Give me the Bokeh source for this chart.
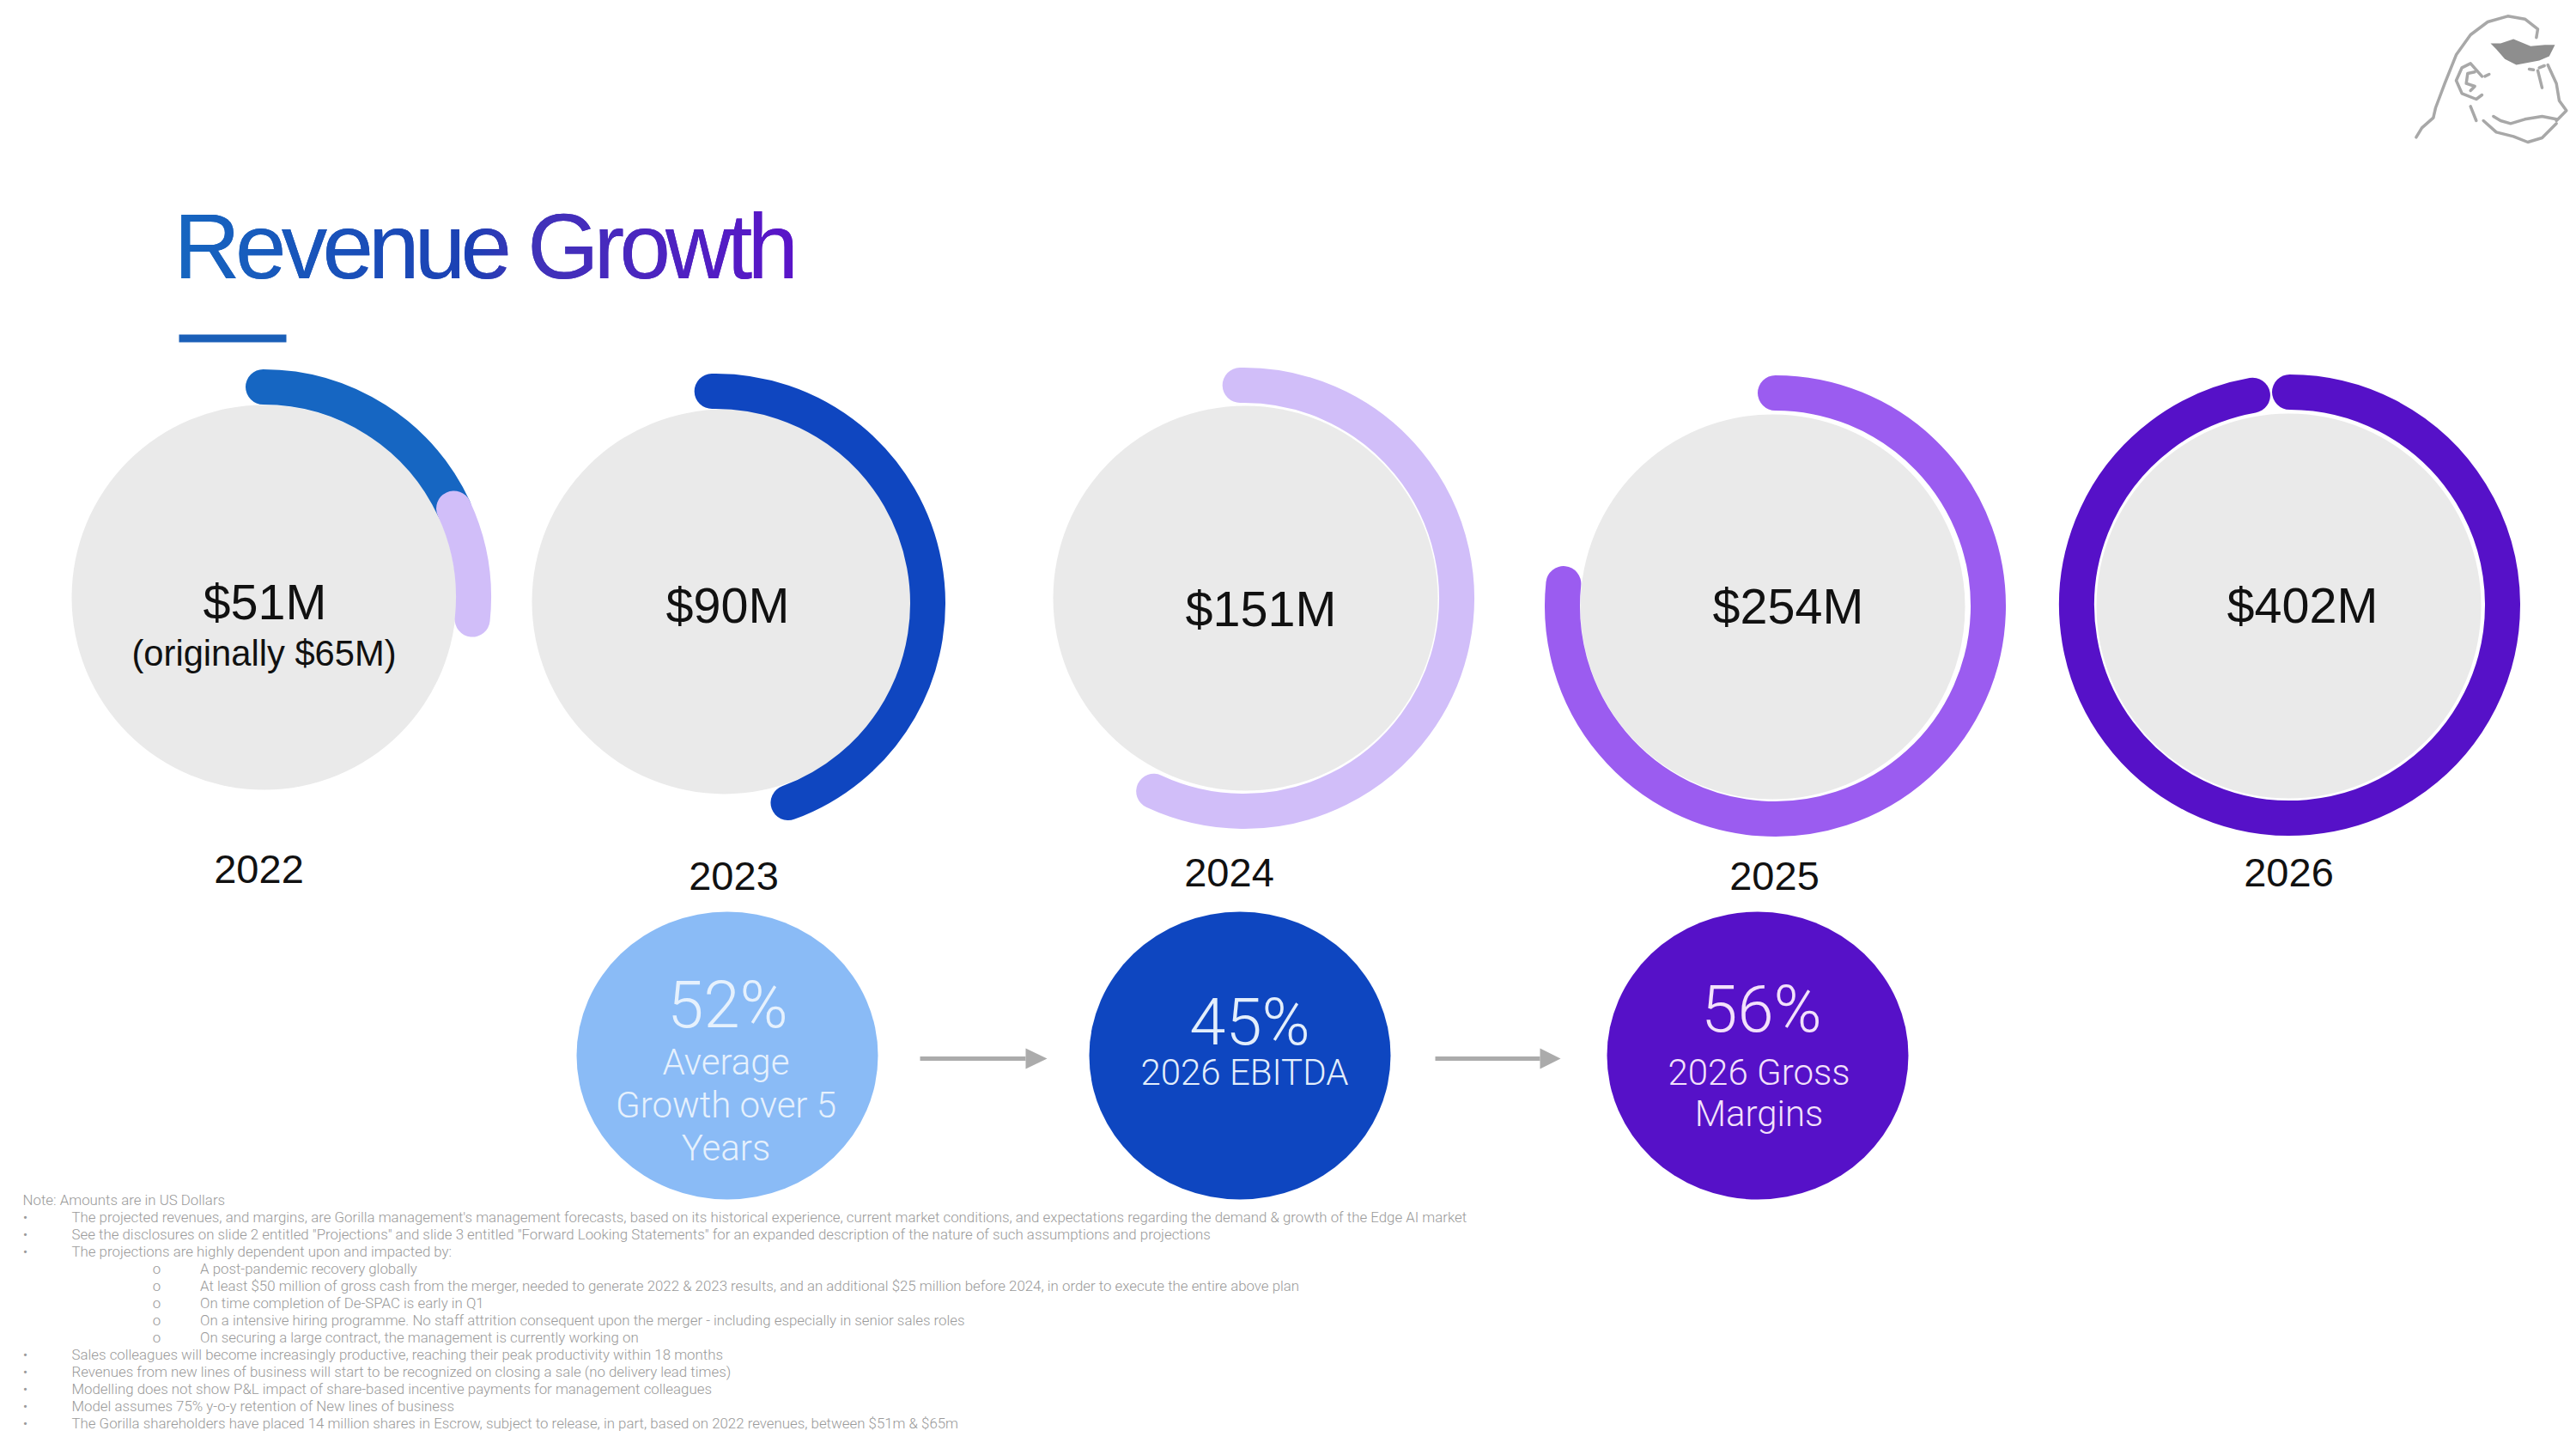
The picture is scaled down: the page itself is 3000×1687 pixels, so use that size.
from bokeh.plotting import figure
from bokeh.models import ColumnDataSource, CustomJS
from bokeh.core.properties import value
from bokeh.document import Document
from bokeh.embed import file_html
from bokeh.resources import INLINE

W, H = 3000, 1687
SANS = value("Liberation Sans")
LIGHT = value("Roboto Light")

# ---- data ----
years = ["2022", "2023", "2024", "2025", "2026"]
revenue_labels = ["$51M", "$90M", "$151M", "$254M", "$402M"]
ring_start_deg = [0, -1, -1, 0, 0]
ring_end_deg = [65, 160, 205, 276, 350]
ring_colors = ["#1666C2", "#0F46C0", "#D1BEF9", "#9B5CF0", "#5611C8"]
original_target_start_deg = [65]
original_target_end_deg = [96]
original_note = "(originally $65M)"
kpi_values = ["52%", "45%", "56%"]
kpi_colors = ["#8ABBF6", "#0E46C0", "#5611C8"]
kpi_text_colors = ["#E6F1FD", "#E3EEFB", "#F3E1FB"]
kpi_labels = [["Average", "Growth over 5", "Years"], ["2026 EBITDA"], ["2026 Gross", "Margins"]]
title = "Revenue Growth"
footnotes = [
    "Note: Amounts are in US Dollars",
    "The projected revenues, and margins, are Gorilla management's management forecasts, based on its historical experience, current market conditions, and expectations regarding the demand & growth of the Edge AI market",
    "See the disclosures on slide 2 entitled \"Projections\" and slide 3 entitled \"Forward Looking Statements\" for an expanded description of the nature of such assumptions and projections",
    "The projections are highly dependent upon and impacted by:",
    "A post-pandemic recovery globally",
    "At least $50 million of gross cash from the merger, needed to generate 2022 & 2023 results, and an additional $25 million before 2024, in order to  execute the entire above plan",
    "On time completion of De-SPAC is early in Q1",
    "On a intensive hiring programme. No staff attrition consequent upon the merger - including especially in senior sales roles",
    "On securing a large contract, the management is currently working on",
    "Sales colleagues will become increasingly productive, reaching their peak productivity within 18 months",
    "Revenues from new lines of business will start to be recognized on closing a sale (no delivery lead times)",
    "Modelling does not show P&L impact of share-based incentive payments for management colleagues",
    "Model assumes 75% y-o-y retention of New lines of business",
    "The Gorilla shareholders have placed 14 million shares in Escrow, subject to release, in part, based on 2022 revenues, between $51m & $65m",
]
footnote_levels = [0, 1, 1, 1, 2, 2, 2, 2, 2, 1, 1, 1, 1, 1]

# ---- layout (pixels of the slide) ----
def Y(py):
    return H - py

p = figure(width=2992, height=1679, x_range=(0, 2992), y_range=(8, 1687),
           output_backend="svg", toolbar_location=None, min_border=0,
           x_axis_type=None, y_axis_type=None, outline_line_color=None)
p.grid.visible = False
p.background_fill_color = "white"
p.border_fill_color = "white"

grey_x = [307, 843, 1450, 2064, 2665]
grey_y = [695, 700, 696, 706, 705]
ring_x = [306, 833, 1448, 2067, 2666]
ring_y = [695, 702, 696, 705, 704]
ring_r = [245, 247, 248, 248, 248]
p.circle(grey_x, [Y(v) for v in grey_y], radius=224, fill_color="#EAEAEA", line_color=None)

rings = ColumnDataSource(dict(
    x=ring_x, y=[Y(v) for v in ring_y], r=ring_r,
    a0=[90 - v for v in ring_start_deg], a1=[90 - v for v in ring_end_deg], c=ring_colors))
p.arc("x", "y", radius="r", start_angle="a0", end_angle="a1", start_angle_units="deg",
      end_angle_units="deg", direction="clock", line_color="c", line_width=41,
      line_cap="round", source=rings)
p.arc(ring_x[:1], [Y(ring_y[0])], radius=ring_r[0],
      start_angle=90 - original_target_start_deg[0], end_angle=90 - original_target_end_deg[0],
      start_angle_units="deg", end_angle_units="deg", direction="clock",
      line_color="#D1BEF9", line_width=41, line_cap="round")

def label(x, y, texts, font, size, color="#111111", align="center"):
    # the svg text sits 0.37em under the requested alphabetic baseline
    p.text(x, [Y(v - 0.37 * size) for v in y], text=texts, text_font=font, text_font_size=f"{size}px",
           text_color=color, text_align=align, text_baseline="alphabetic")

label([308, 847, 1468, 2082, 2681], [722, 726, 730, 727, 726], revenue_labels, SANS, 57.5)
label([307], [775], [original_note], SANS, 41.7)
label([301, 854, 1431, 2066, 2665], [1029, 1037, 1033, 1037, 1033], years, SANS, 47)

# KPI circles
kpi_x = [846.5, 1443.5, 2046.5]
p.ellipse(kpi_x, [Y(1228.5)] * 3, width=351, height=335, fill_color=kpi_colors, line_color=None)
for x, y, v, c in zip([847, 1455, 2051], [1197.5, 1218, 1203], kpi_values, kpi_text_colors):
    label([x], [y], [v], LIGHT, 76, c)
for x, ys, lines, c in zip([845, 1449, 2048], [[1252, 1302, 1352], [1264], [1264, 1312]], kpi_labels, kpi_text_colors):
    label([x] * len(ys), ys, lines, LIGHT, 42, c)

# arrows
ax0, ax1, head = [1071, 1671], [1219, 1817], [1194, 1793]
p.segment(ax0, [Y(1232)] * 2, head, [Y(1232)] * 2, line_color="#ABABAB", line_width=5)
p.patches([[h, h, e] for h, e in zip(head, ax1)],
          [[Y(1220), Y(1244), Y(1232)]] * 2, fill_color="#ABABAB", line_color=None)

# title + rule
label([202], [326], [title], SANS, 107, "#2A3FB8", "left")
p.quad(left=[208], right=[333], top=[Y(389)], bottom=[Y(398)], fill_color="#1A5FB8", line_color=None)

# footnotes
fy = [1397, 1417, 1437, 1457, 1477, 1497, 1517.5, 1537.5, 1557.5, 1577.5, 1597.5, 1617.5, 1637.5, 1657.5]
fx = [26, 83, 232.5]
GREY = "#9A9A9A"
FS = 16.85
for t, y, lev in zip(footnotes, fy, footnote_levels):
    label([fx[lev]], [y + 5.5], [t], LIGHT, FS, GREY, "left")
    if lev:
        label([29 if lev == 1 else 182], [y + 5.5], ["\u2022" if lev == 1 else "o"], LIGHT, FS, GREY, "center")

# gorilla logo (decoration), points measured in a local 660x540 crop
def logo(pts):
    return [2780 + a / 3 for a, b in pts], [Y(b / 3) for a, b in pts]
strokes = [
    [(100,478),(120,445),(160,410),(168,375),(200,290),(240,190),(290,120),(350,75),(420,55),(480,65),(525,100),(520,130)],
    [(330,265),(290,220),(260,235),(240,280),(260,325),(310,345),(330,330)],
    [(305,250),(280,255),(275,290),(305,300),(290,315)],
    [(525,245),(540,305)], [(495,240),(510,242)], [(530,235),(548,228)],
    [(340,265),(355,258)],
    [(560,225),(590,290),(600,350),(625,385),(600,410),(590,420)],
    [(370,405),(395,420),(430,430),(480,415),(540,405),(590,415)],
    [(290,370),(310,420)],
    [(335,420),(380,460),(440,475),(490,495),(540,480),(590,430)],
]
for s in strokes:
    xs, ys = logo(s)
    p.line(xs, ys, line_color="#A8A8A8", line_width=3.5, line_join="round", line_cap="round")
gx, gy = logo([(360,150),(395,150),(440,135),(500,160),(550,155),(585,155),(565,195),(530,210),(450,225),(410,205),(380,170)])
p.patch(gx, gy, fill_color="#8E8E8E", line_color=None)

# title tracking and colour gradient on the SVG text
doc = Document()
doc.add_root(p)
doc.js_on_event("document_ready", CustomJS(args=dict(title=title), code="""
function walk(root, out) {
  for (const el of root.querySelectorAll('*')) {
    if (el.tagName === 'text' && el.textContent === title) out.push(el);
    if (el.shadowRoot) walk(el.shadowRoot, out);
  }
  return out;
}
function apply() {
  for (const t of walk(document, [])) {
    const svg = t.ownerSVGElement, ns = 'http://www.w3.org/2000/svg';
    t.setAttribute('letter-spacing', '-5.8px');
    t.style.letterSpacing = '-5.8px';
    if (!svg.querySelector('#titlegrad')) {
      const g = document.createElementNS(ns, 'linearGradient');
      g.setAttribute('id', 'titlegrad');
      g.setAttribute('x1', '0'); g.setAttribute('x2', '1');
      g.setAttribute('y1', '0'); g.setAttribute('y2', '0');
      [['0', '#1666C0'], ['0.48', '#1C40B4'], ['0.56', '#3E34B8'], ['1', '#5A14C8']].forEach(([o, c]) => {
        const s = document.createElementNS(ns, 'stop');
        s.setAttribute('offset', o); s.setAttribute('stop-color', c); g.appendChild(s);
      });
      svg.appendChild(g);
    }
    t.setAttribute('fill', 'url(#titlegrad)');
    t.style.fill = 'url(#titlegrad)';
  }
}
apply(); setTimeout(apply, 100); setTimeout(apply, 500);
"""))

open("out.html", "w").write(file_html(doc, INLINE))
